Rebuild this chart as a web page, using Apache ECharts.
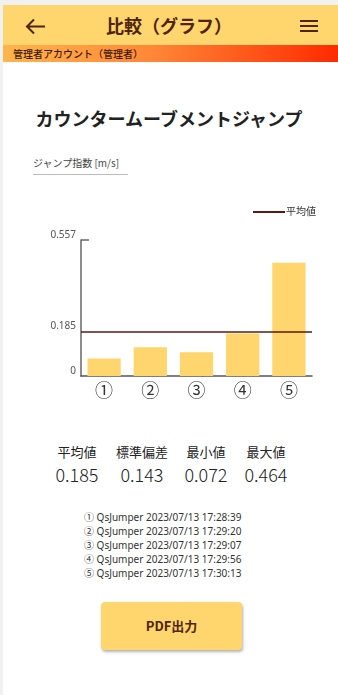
<!DOCTYPE html>
<html><head><meta charset="utf-8">
<script src="https://cdn.jsdelivr.net/npm/echarts@6/dist/echarts.min.js"></script>
<style>
html,body{margin:0;padding:0;width:338px;height:695px;overflow:hidden;background:#f1f1f1;font-family:"Noto Sans","Noto Sans CJK JP",sans-serif;}
#page{position:absolute;left:3px;top:5px;width:335px;height:690px;background:#fff;}
#hdr{position:absolute;left:0;top:0;width:335px;height:40px;background:#FFD56E;}
#hdr .t{position:absolute;left:0;width:332px;top:0;line-height:40px;text-align:center;font-family:"Noto Sans CJK JP";font-weight:bold;font-size:18px;color:#4f2408;}
#hdr svg{position:absolute;left:20px;top:12px;}
#hdr .menu{position:absolute;left:297px;top:15px;width:18px;}
#hdr .menu div{height:2px;background:#4f2408;margin-bottom:3px;}
#sub{position:absolute;left:0;top:40px;width:335px;height:17px;background:linear-gradient(90deg,#FFB54C 0%,#FF8636 45%,#FF2A00 100%);font-family:"Noto Sans CJK JP";font-size:10px;line-height:17px;color:#3d1a05;padding-left:10px;box-sizing:border-box;font-weight:500;}
#title{position:absolute;left:0;width:332px;top:100px;text-align:center;font-family:"Noto Sans CJK JP";font-weight:bold;font-size:18px;color:#222;}
#unit{position:absolute;left:30px;top:150px;font-family:"Noto Sans CJK JP","Noto Sans";font-size:10px;color:#444;border-bottom:1px solid #bbb;padding-bottom:4px;width:95px;}
#chart{position:absolute;left:0;top:190px;width:338px;height:215px;}
.stat{position:absolute;top:443px;width:70px;text-align:center;color:#222;}
.stat .l{font-family:"Noto Sans CJK JP";font-size:13px;line-height:18px;}
.stat .v{font-family:"Noto Sans CJK JP","Noto Sans";font-weight:300;font-size:18px;line-height:26px;}
#list{position:absolute;left:84px;top:510px;font-family:"Noto Sans","Noto Sans CJK JP";font-size:10px;line-height:14px;color:#333;}
#btn{position:absolute;left:101px;top:602px;width:141px;height:48px;background:#FFD56E;border-radius:4px;box-shadow:1px 2px 3px rgba(0,0,0,0.3);text-align:center;line-height:48px;font-family:"Noto Sans CJK JP";font-weight:bold;font-size:13px;color:#4f2408;}
</style></head>
<body>
<div id="page">
<div id="hdr"><svg width="24" height="20" viewBox="0 0 24 20"><path d="M4 9.5 H22 M11 2.5 L4 9.5 L11 16.5" fill="none" stroke="#4f2408" stroke-width="2"/></svg><div class="t">比較（グラフ）</div><div class="menu"><div></div><div></div><div></div></div></div>
<div id="sub">管理者アカウント（管理者）</div>
<div id="title">カウンタームーブメントジャンプ</div>
<div id="unit">ジャンプ指数 [m/s]</div>
</div>
<div id="chart"></div>
<div id="stats"></div>
<div id="list"></div>
<div id="btn">PDF出力</div>
<script>
const categories = ['①','②','③','④','⑤'];
const jumpValues = [0.072, 0.118, 0.097, 0.174, 0.464];
const meanValue = 0.185;
const axisMax = 0.557;
const yTickLabels = [0, 0.185, 0.557];
const statLabels = ['平均値','標準偏差','最小値','最大値'];
const statValues = ['0.185','0.143','0.072','0.464'];
const statCenters = [77, 142, 206, 266];
const recordNames = ['QsJumper 2023/07/13 17:28:39','QsJumper 2023/07/13 17:29:20','QsJumper 2023/07/13 17:29:07','QsJumper 2023/07/13 17:29:56','QsJumper 2023/07/13 17:30:13'];

const stats = document.getElementById('stats');
statLabels.forEach((l,i)=>{
  const d=document.createElement('div');d.className='stat';d.style.left=(statCenters[i]-35)+'px';
  d.innerHTML='<div class="l">'+l+'</div><div class="v">'+statValues[i]+'</div>';
  stats.appendChild(d);
});
document.getElementById('list').innerHTML = recordNames.map((r,i)=>categories[i]+' '+r).join('<br>');

const chart = echarts.init(document.getElementById('chart'));
chart.setOption({
  animation:false,
  textStyle:{fontFamily:'"Noto Sans","Noto Sans CJK JP",sans-serif'},
  legend:{right:17,top:12,itemWidth:32,itemHeight:2,itemGap:0,icon:'rect',
    textStyle:{fontSize:10,color:'#333',padding:[0,0,0,-4]},data:['平均値']},
  grid:{left:81,right:26,top:50,bottom:29},
  xAxis:{type:'category',data:categories,
    axisLine:{lineStyle:{color:'#555',width:1.5}},axisTick:{show:false},
    axisLabel:{fontSize:18,color:'#333',margin:5,fontFamily:'"Noto Sans CJK JP"'}},
  yAxis:{type:'value',min:0,max:axisMax,
    axisLine:{show:true,lineStyle:{color:'#666',width:1.5}},
    axisTick:{show:true,inside:true,length:8,customValues:[axisMax],lineStyle:{color:'#666',width:1.5}},
    splitLine:{show:false},
    axisLabel:{customValues:yTickLabels,fontSize:10,color:'#555',margin:5,verticalAlign:'bottom',
      formatter:v=>String(v)}},
  series:[
    {type:'bar',name:'ジャンプ指数',data:jumpValues,barWidth:'72%',itemStyle:{color:'#FFD56E'}},
    {type:'line',name:'平均値',data:[],itemStyle:{color:'#5a1a10'},lineStyle:{color:'#5a1a10'},
     markLine:{symbol:'none',silent:true,label:{show:false},
       lineStyle:{color:'#5a1a10',width:1.5,type:'solid'},data:[{yAxis:meanValue}]}}
  ]
});
</script>
</body></html>
